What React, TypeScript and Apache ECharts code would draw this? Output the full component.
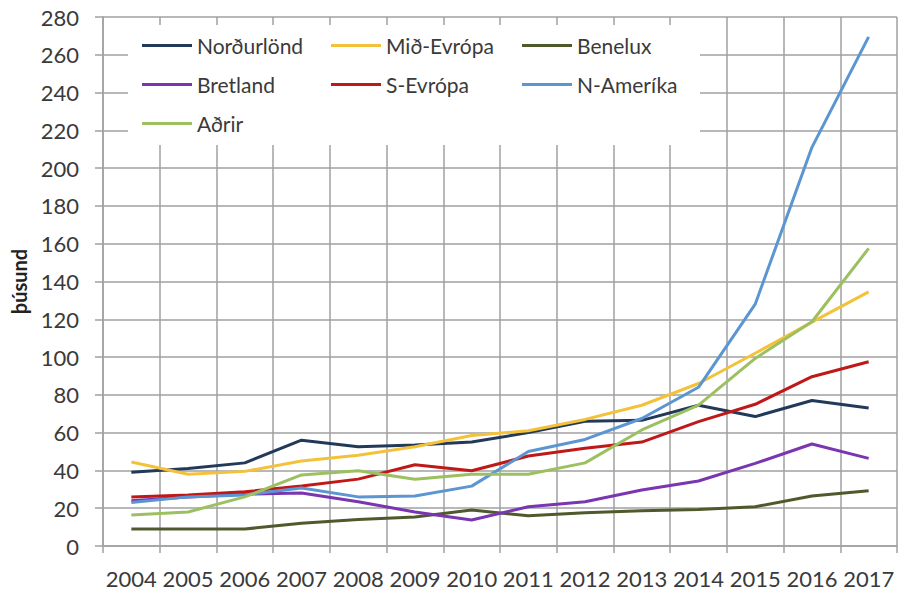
import React, { useEffect, useRef } from "react";
import * as echarts from "echarts";

const years = ["2004","2005","2006","2007","2008","2009","2010","2011","2012","2013","2014","2015","2016","2017"];
const nordurlond = [39, 41, 44, 56, 52.5, 53.5, 55, 60, 66, 66.5, 74.5, 68.5, 77, 73];
const midEvropa = [44.5, 38, 39.5, 45, 48, 52.5, 58.5, 61, 67, 74.5, 86, 102, 118.5, 134.5];
const benelux = [9, 9, 9, 12, 14, 15.4, 19, 16, 17.6, 18.7, 19.3, 20.8, 26.5, 29.3];
const bretland = [24, 26, 27.5, 28, 23.4, 18, 13.8, 20.8, 23.4, 29.6, 34.4, 43.7, 54, 46.4];
const sEvropa = [26, 27, 28.7, 31.7, 35.4, 43, 39.8, 47.6, 51.7, 55, 65.8, 75, 89.6, 97.5];
const nAmerika = [23, 26, 27, 30.7, 26, 26.5, 31.7, 50, 56.4, 67.5, 84, 128, 211, 269.5];
const adrir = [16.4, 18, 26, 37.6, 39.8, 35.3, 38, 38, 44, 61.4, 74.6, 99.3, 118.7, 157.5];

const yTicks = { min: 0, max: 280, interval: 20 };

const seriesDefs = [
  { name: "Norðurlönd", data: nordurlond, color: "#22395a" },
  { name: "Mið-Evrópa", data: midEvropa, color: "#f4c23a" },
  { name: "Benelux", data: benelux, color: "#4f5a2c" },
  { name: "Bretland", data: bretland, color: "#7a35b0" },
  { name: "S-Evrópa", data: sEvropa, color: "#c01818" },
  { name: "N-Ameríka", data: nAmerika, color: "#5b95d2" },
  { name: "Aðrir", data: adrir, color: "#9cc060" },
];

const FONT = "Lato";
const GRAY = "#a0a0a0";
const TEXT = "#3a3a3a";

export default function App() {
  const ref = useRef<HTMLDivElement>(null);
  useEffect(() => {
    if (!ref.current) return;
    const chart = echarts.init(ref.current, undefined, { renderer: "svg" });
    const legendCommon = {
      orient: "vertical" as const,
      icon: "rect",
      itemWidth: 50,
      itemHeight: 3,
      itemGap: 18,
      padding: 0,
      selectedMode: false,
      textStyle: { fontFamily: FONT, fontSize: 21, color: TEXT, lineHeight: 20 },
      z: 5,
    };
    chart.setOption({
      animation: false,
      backgroundColor: "#ffffff",
      grid: { left: 103, right: 1, top: 17, bottom: 46, containLabel: false },
      graphic: [
        {
          type: "rect",
          shape: { x: 128, y: 25, width: 572, height: 120 },
          style: { fill: "#ffffff" },
          z: 1,
        },
      ],
      legend: [
        { ...legendCommon, left: 142, top: 35, data: ["Norðurlönd", "Bretland", "Aðrir"] },
        { ...legendCommon, left: 331, top: 35, data: ["Mið-Evrópa", "S-Evrópa"] },
        { ...legendCommon, left: 522, top: 35, data: ["Benelux", "N-Ameríka"] },
      ],
      xAxis: {
        type: "category",
        data: years,
        boundaryGap: true,
        axisLine: { show: true, lineStyle: { color: GRAY, width: 1.5 } },
        axisTick: { show: true, length: 7, lineStyle: { color: GRAY, width: 1.5 } },
        splitLine: { show: true, lineStyle: { color: GRAY, width: 1.5 } },
        axisLabel: { interval: 0, margin: 21, fontFamily: FONT, fontSize: 22, color: TEXT },
      },
      yAxis: {
        type: "value",
        min: yTicks.min,
        max: yTicks.max,
        interval: yTicks.interval,
        name: "þúsund",
        nameLocation: "middle",
        nameRotate: 90,
        nameGap: 74,
        nameTextStyle: { fontFamily: FONT, fontSize: 20, fontWeight: "bold", color: "#222" },
        axisLine: { show: true, lineStyle: { color: GRAY, width: 1.5 } },
        axisTick: { show: true, length: 8, lineStyle: { color: GRAY, width: 1.5 } },
        splitLine: { show: true, lineStyle: { color: GRAY, width: 1.5 } },
        axisLabel: { margin: 24, fontFamily: FONT, fontSize: 22, color: TEXT },
      },
      series: seriesDefs.map((s) => ({
        name: s.name,
        type: "line",
        data: s.data,
        symbol: "none",
        showSymbol: false,
        color: s.color,
        lineStyle: { color: s.color, width: 3 },
        z: 2,
      })),
    });
    return () => chart.dispose();
  }, []);
  return (
    <div
      ref={ref}
      style={{ position: "fixed", left: 0, top: 0, width: 898, height: 592, background: "#fff" }}
    />
  );
}
